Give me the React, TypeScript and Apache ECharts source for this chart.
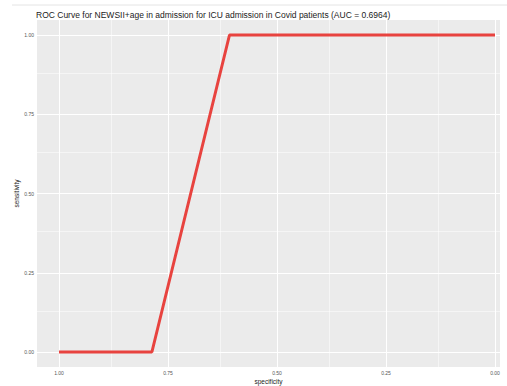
import React, { useEffect, useRef } from "react";
import * as echarts from "echarts";

const specificity = [1.0, 0.787, 0.609, 0.0];
const sensitivity = [0.0, 0.0, 1.0, 1.0];
const majorBreaks = [0, 0.25, 0.5, 0.75, 1];
const minorBreaks = [0.125, 0.375, 0.625, 0.875];
const titleText =
  "ROC Curve for NEWSII+age in admission for ICU admission in Covid patients (AUC = 0.6964)";

export default function App() {
  const ref = useRef<HTMLDivElement>(null);
  useEffect(() => {
    if (!ref.current) return;
    const chart = echarts.init(ref.current, null, { renderer: "svg" });
    const font = "'Liberation Sans', Arial, sans-serif";
    const gridLines = [
      ...majorBreaks.map((v) => ({ xAxis: v, lineStyle: { width: 1 } })),
      ...minorBreaks.map((v) => ({ xAxis: v, lineStyle: { width: 0.5 } })),
      ...majorBreaks.map((v) => ({ yAxis: v, lineStyle: { width: 1 } })),
      ...minorBreaks.map((v) => ({ yAxis: v, lineStyle: { width: 0.5 } })),
    ];
    chart.setOption({
      animation: false,
      backgroundColor: "#ffffff",
      textStyle: { fontFamily: font },
      title: {
        text: titleText,
        left: 31,
        top: 5,
        textStyle: { fontSize: 8.5, fontWeight: "normal", color: "#222", fontFamily: font },
      },
      graphic: [
        {
          type: "line",
          shape: { x1: 12, y1: 5, x2: 507, y2: 5 },
          style: { stroke: "#e4e4e4", lineWidth: 1 },
          silent: true,
        },
      ],
      grid: {
        left: 37,
        right: 7,
        top: 20,
        bottom: 19,
        show: true,
        backgroundColor: "#EBEBEB",
        borderWidth: 0,
        containLabel: false,
        outerBoundsMode: "none",
      },
      xAxis: {
        type: "value",
        inverse: true,
        min: -0.0114,
        max: 1.0505,
        name: "specificity",
        nameLocation: "middle",
        nameGap: 11,
        nameMoveOverlap: false,
        nameTextStyle: { fontSize: 6.5, color: "#222", fontFamily: font },
        axisLine: { show: false },
        axisTick: {
          show: true,
          customValues: majorBreaks,
          length: 2.5,
          lineStyle: { color: "#555", width: 0.8 },
        },
        axisLabel: {
          customValues: majorBreaks,
          formatter: (v: number) => v.toFixed(2),
          fontSize: 5,
          color: "#555",
          margin: 3,
        },
        splitLine: { show: false },
      },
      yAxis: {
        type: "value",
        min: -0.0473,
        max: 1.0473,
        name: "sensitivity",
        nameLocation: "middle",
        nameGap: 17,
        nameMoveOverlap: false,
        nameRotate: 90,
        nameTextStyle: { fontSize: 6.5, color: "#222", fontFamily: font },
        axisLine: { show: false },
        axisTick: {
          show: true,
          customValues: majorBreaks,
          length: 2.5,
          lineStyle: { color: "#555", width: 0.8 },
        },
        axisLabel: {
          customValues: majorBreaks,
          formatter: (v: number) => v.toFixed(2),
          fontSize: 5,
          color: "#555",
          margin: 3,
        },
        splitLine: { show: false },
      },
      series: [
        {
          type: "line",
          data: [],
          silent: true,
          z: 1,
          markLine: {
            silent: true,
            symbol: ["none", "none"],
            label: { show: false },
            lineStyle: { color: "#ffffff", type: "solid", opacity: 1 },
            emphasis: { disabled: true },
            z: 1,
            data: gridLines,
          },
        },
        {
          type: "line",
          z: 5,
          data: specificity.map((s, i) => [s, sensitivity[i]]),
          symbol: "none",
          lineStyle: { color: "#E8433F", width: 3 },
          itemStyle: { color: "#E8433F" },
        },
      ],
    });
    return () => chart.dispose();
  }, []);
  return (
    <div
      ref={ref}
      style={{ position: "absolute", left: 0, top: 0, width: 507, height: 386 }}
    />
  );
}
